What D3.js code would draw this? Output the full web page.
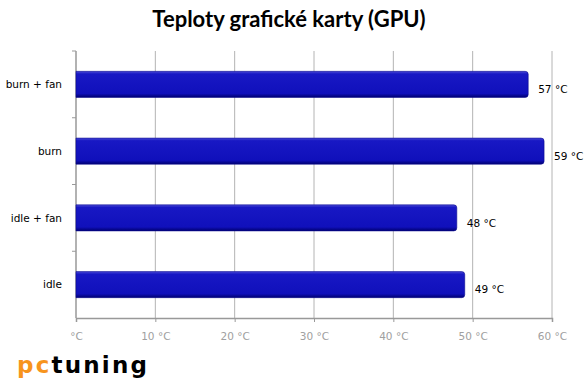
<!DOCTYPE html>
<html>
<head>
<meta charset="utf-8">
<script src="https://cdn.jsdelivr.net/npm/d3@7"></script>
<style>
  body { margin: 0; background: #fff; }
  svg { display: block; }
</style>
</head>
<body>
<div id="chart"></div>
<script>
// chart data, top to bottom
const categories = ["burn + fan", "burn", "idle + fan", "idle"]
const temps = [57, 59, 48, 49]
const tickValues = [0, 10, 20, 30, 40, 50, 60]
const tickLabels = ["°C", "10 °C", "20 °C", "30 °C", "40 °C", "50 °C", "60 °C"]
const valueLabels = ["57 °C", "59 °C", "48 °C", "49 °C"]

const W = 585, H = 388
const margin = { top: 51, right: 33, bottom: 70, left: 76 }
const width = W - margin.left - margin.right
const height = H - margin.top - margin.bottom

const svg = d3.select("#chart").append("svg")
  .attr("width", W)
  .attr("height", H)

// title
svg.append("text")
  .attr("x", 289)
  .attr("y", 27)
  .attr("text-anchor", "middle")
  .style("font-family", "Lato, 'Open Sans', sans-serif")
  .style("font-weight", "bold")
  .style("font-size", "22px")
  .text("Teploty grafické karty (GPU)")

const defs = svg.append("defs")
const grad = defs.append("linearGradient")
  .attr("id", "barGrad")
  .attr("x1", 0).attr("y1", 0).attr("x2", 0).attr("y2", 1)
grad.append("stop").attr("offset", "0%").attr("stop-color", "#4a4ad6")
grad.append("stop").attr("offset", "10%").attr("stop-color", "#1818c4")
grad.append("stop").attr("offset", "85%").attr("stop-color", "#1010bb")
grad.append("stop").attr("offset", "100%").attr("stop-color", "#000070")

const g = svg.append("g")
  .attr("transform", "translate(" + margin.left + "," + margin.top + ")")

const x = d3.scaleLinear()
  .domain([0, 60])
  .range([0, width])

const y = d3.scaleBand()
  .domain(categories)
  .range([0, height])
  .paddingInner(0.61)
  .paddingOuter(0.305)

// gridlines
g.append("g")
  .selectAll("line")
  .data(tickValues.slice(1))
  .enter()
  .append("line")
  .attr("x1", d => x(d)).attr("x2", d => x(d))
  .attr("y1", 0).attr("y2", height)
  .attr("stroke", "#b4b4b4")
  .attr("stroke-width", 1)

// bottom axis
const xAxis = d3.axisBottom(x)
  .tickValues(tickValues)
  .tickSize(4)
  .tickPadding(11)
  .tickFormat((d, i) => tickLabels[i])

const xg = g.append("g")
  .attr("transform", "translate(0," + height + ")")
  .call(xAxis)
xg.select(".domain").attr("stroke", "#999").attr("stroke-width", 1.5)
xg.selectAll(".tick line").attr("stroke", "#999")
xg.selectAll("text")
  .attr("fill", "#a0a0a0")
  .style("font-family", "'DejaVu Sans', sans-serif")
  .style("font-size", "10.5px")

// left axis with ticks between categories
g.append("line")
  .attr("x1", 0).attr("x2", 0)
  .attr("y1", 0).attr("y2", height)
  .attr("stroke", "#999")
  .attr("stroke-width", 1.5)

g.append("g")
  .selectAll("line")
  .data(d3.range(categories.length))
  .enter()
  .append("line")
  .attr("x1", -4).attr("x2", 0)
  .attr("y1", d => d * height / categories.length)
  .attr("y2", d => d * height / categories.length)
  .attr("stroke", "#999")

g.append("g")
  .selectAll("text")
  .data(categories)
  .enter()
  .append("text")
  .attr("x", -14)
  .attr("y", d => y(d) + y.bandwidth() / 2)
  .attr("dy", "0.35em")
  .attr("text-anchor", "end")
  .style("font-family", "'DejaVu Sans', sans-serif")
  .style("font-size", "10.5px")
  .text(d => d)

// bars
g.append("g")
  .selectAll("path")
  .data(temps)
  .enter()
  .append("path")
  .attr("d", (d, i) => {
    const x0 = x(0), x1 = x(d), y0 = y(categories[i]), h = y.bandwidth(), r = 3
    return "M" + x0 + "," + y0 +
      "H" + (x1 - r) +
      "Q" + x1 + "," + y0 + " " + x1 + "," + (y0 + r) +
      "V" + (y0 + h - r) +
      "Q" + x1 + "," + (y0 + h) + " " + (x1 - r) + "," + (y0 + h) +
      "H" + x0 + "Z"
  })
  .attr("fill", "url(#barGrad)")
  .attr("stroke", "#0a0a90")
  .attr("stroke-width", 0.6)

// value labels
g.append("g")
  .selectAll("text")
  .data(temps)
  .enter()
  .append("text")
  .attr("x", d => x(d) + 10)
  .attr("y", (d, i) => y(categories[i]) + y.bandwidth() / 2 + 5)
  .attr("dy", "0.35em")
  .style("font-family", "'DejaVu Sans', sans-serif")
  .style("font-size", "10.5px")
  .text((d, i) => valueLabels[i])

// logo
const logo = svg.append("text")
  .attr("x", 17)
  .attr("y", 373)
  .style("font-family", "'DejaVu Sans', sans-serif")
  .style("font-weight", "bold")
  .style("font-size", "23px")
  .style("letter-spacing", "2.2px")
logo.append("tspan").attr("fill", "#f7941d").text("pc")
logo.append("tspan").attr("fill", "#000").text("tuning")
</script>
</body>
</html>
